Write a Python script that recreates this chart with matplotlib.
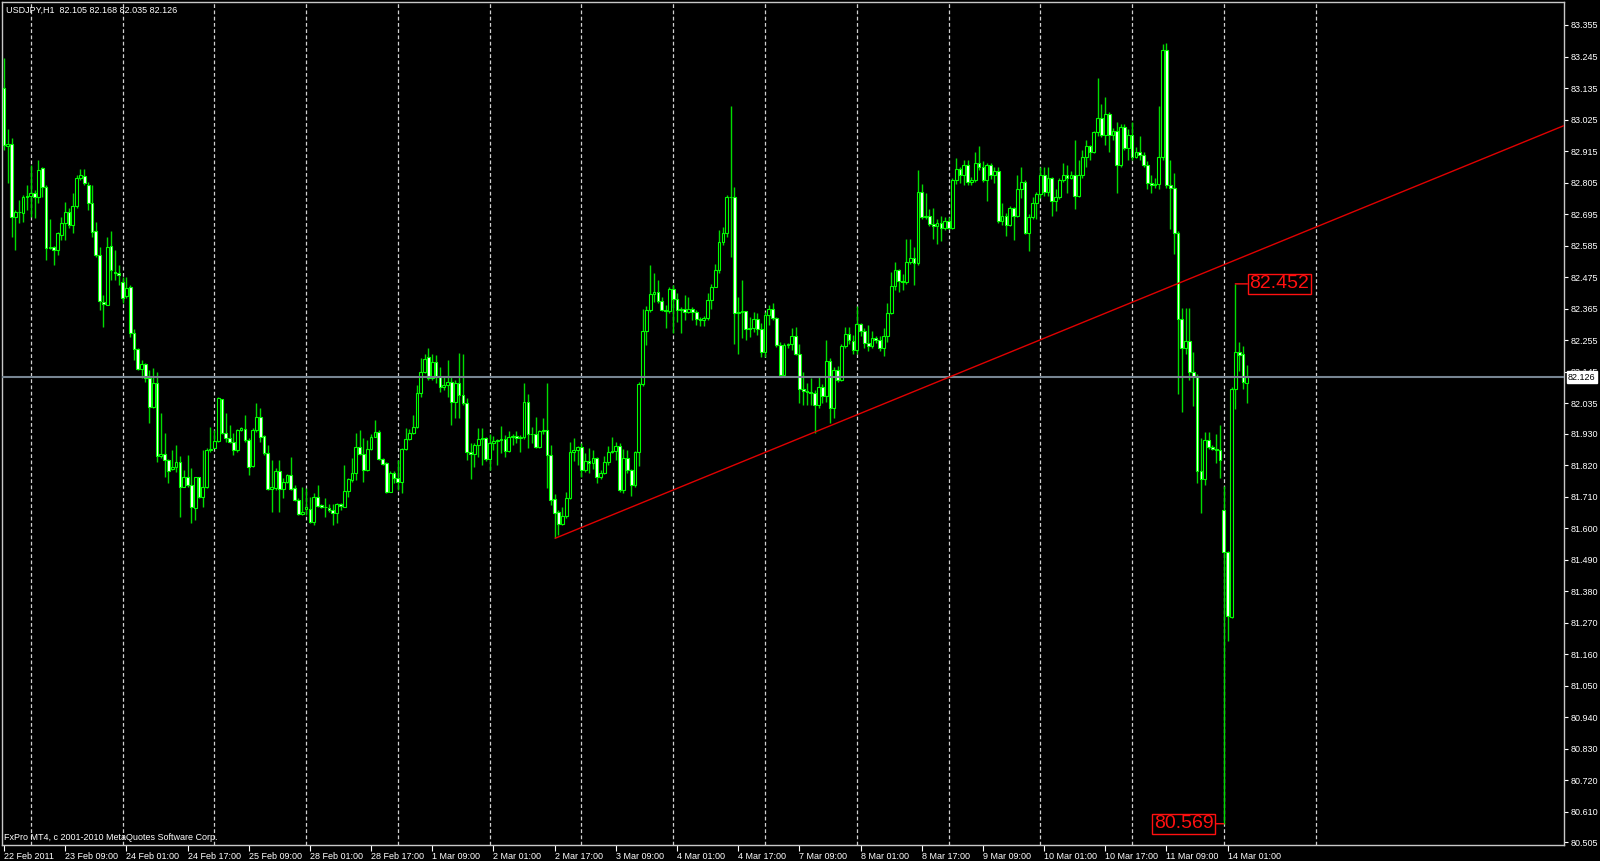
import numpy as np
import matplotlib
matplotlib.use("Agg")
import matplotlib.pyplot as plt
from matplotlib.transforms import blended_transform_factory

plt.rcParams['font.family'] = ['Liberation Sans', 'DejaVu Sans']

# USDJPY H1, one value per hourly bar (22 Feb 2011 17:00 -> 14 Mar 2011 06:00)
opens = [
    83.134, 82.933, 82.939, 82.687, 82.702, 82.698, 82.756, 82.759, 82.770, 82.756,
    82.855, 82.791, 82.576, 82.582, 82.570, 82.623, 82.663, 82.702, 82.658, 82.722,
    82.823, 82.829, 82.798, 82.735, 82.638, 82.553, 82.390, 82.379, 82.584, 82.495,
    82.489, 82.458, 82.408, 82.440, 82.282, 82.224, 82.154, 82.173, 82.123, 82.022,
    82.108, 81.852, 81.858, 81.838, 81.808, 81.812, 81.829, 81.745, 81.777, 81.751,
    81.669, 81.777, 81.710, 81.745, 81.873, 81.879, 81.905, 82.050, 81.933, 81.916,
    81.902, 81.873, 81.943, 81.947, 81.908, 81.817, 81.943, 81.989, 81.922, 81.861,
    81.736, 81.739, 81.801, 81.736, 81.762, 81.786, 81.739, 81.698, 81.650, 81.666,
    81.666, 81.623, 81.710, 81.681, 81.673, 81.669, 81.663, 81.652, 81.684, 81.675,
    81.731, 81.768, 81.791, 81.884, 81.859, 81.803, 81.875, 81.919, 81.937, 81.840,
    81.826, 81.727, 81.794, 81.774, 81.762, 81.875, 81.910, 81.931, 81.954, 82.073,
    82.143, 82.196, 82.122, 82.180, 82.126, 82.093, 82.099, 82.111, 82.041, 82.105,
    82.064, 82.035, 81.866, 81.858, 81.890, 81.910, 81.914, 81.840, 81.898, 81.905,
    81.907, 81.910, 81.870, 81.919, 81.921, 81.914, 81.917, 82.041, 81.928, 81.930,
    81.884, 81.940, 81.942, 81.855, 81.700, 81.657, 81.616, 81.642, 81.704, 81.866,
    81.872, 81.882, 81.802, 81.835, 81.826, 81.843, 81.779, 81.791, 81.832, 81.866,
    81.869, 81.886, 81.733, 81.843, 81.802, 81.750, 81.866, 82.103, 82.289, 82.361,
    82.416, 82.423, 82.393, 82.361, 82.358, 82.434, 82.398, 82.361, 82.363, 82.355,
    82.366, 82.355, 82.328, 82.326, 82.332, 82.395, 82.442, 82.500, 82.599, 82.630,
    82.754, 82.756, 82.349, 82.355, 82.358, 82.293, 82.298, 82.330, 82.295, 82.215,
    82.343, 82.366, 82.332, 82.239, 82.134, 82.239, 82.242, 82.270, 82.209, 82.087,
    82.079, 82.076, 82.070, 82.029, 82.093, 82.061, 82.184, 82.018, 82.151, 82.116,
    82.235, 82.277, 82.254, 82.222, 82.311, 82.286, 82.245, 82.236, 82.263, 82.257,
    82.227, 82.271, 82.351, 82.446, 82.502, 82.463, 82.458, 82.529, 82.542, 82.524,
    82.773, 82.684, 82.689, 82.662, 82.653, 82.666, 82.648, 82.671, 82.648, 82.813,
    82.854, 82.831, 82.867, 82.808, 82.813, 82.875, 82.861, 82.813, 82.867, 82.831,
    82.844, 82.671, 82.689, 82.659, 82.716, 82.689, 82.783, 82.808, 82.630, 82.684,
    82.733, 82.765, 82.831, 82.773, 82.822, 82.742, 82.755, 82.813, 82.831, 82.822,
    82.831, 82.760, 82.831, 82.893, 82.932, 82.911, 82.982, 83.032, 82.973, 83.044,
    82.973, 82.986, 82.867, 83.000, 82.925, 82.973, 82.893, 82.911, 82.902, 82.867,
    82.804, 82.796, 82.799, 82.893, 83.267, 82.796, 82.787, 82.630, 82.328, 82.227,
    82.254, 82.143, 82.126, 81.801, 81.770, 81.907, 81.884, 81.877, 81.872, 81.664,
    81.516, 81.290, 82.085, 82.215, 82.209, 82.105,
]
highs = [
    83.239, 82.992, 82.960, 82.710, 82.745, 82.762, 82.797, 82.867, 82.780, 82.884,
    82.861, 82.797, 82.677, 82.584, 82.634, 82.687, 82.739, 82.716, 82.768, 82.832,
    82.854, 82.854, 82.809, 82.797, 82.669, 82.582, 82.413, 82.617, 82.638, 82.570,
    82.518, 82.477, 82.477, 82.448, 82.294, 82.227, 82.187, 82.175, 82.152, 82.158,
    82.146, 82.001, 81.931, 81.840, 81.873, 81.890, 81.850, 81.803, 81.855, 81.809,
    81.780, 81.780, 81.873, 81.879, 81.954, 81.943, 82.059, 82.050, 82.001, 81.960,
    81.931, 81.946, 81.954, 81.995, 81.913, 81.948, 82.036, 82.018, 81.925, 81.890,
    81.838, 81.809, 81.836, 81.774, 81.789, 81.847, 81.751, 81.704, 81.745, 81.739,
    81.710, 81.722, 81.751, 81.684, 81.704, 81.684, 81.684, 81.687, 81.687, 81.820,
    81.774, 81.844, 81.931, 81.943, 81.914, 81.908, 81.929, 81.977, 81.943, 81.844,
    81.832, 81.801, 81.801, 81.836, 81.879, 81.948, 81.946, 81.995, 82.100, 82.193,
    82.208, 82.227, 82.209, 82.204, 82.163, 82.128, 82.186, 82.128, 82.116, 82.212,
    82.209, 82.053, 81.896, 81.896, 81.951, 81.948, 81.919, 81.930, 81.921, 81.910,
    81.956, 81.925, 81.940, 81.930, 81.940, 81.925, 82.105, 82.068, 81.954, 81.989,
    81.944, 81.983, 82.105, 81.890, 81.719, 81.663, 81.675, 81.727, 81.901, 81.913,
    81.886, 81.896, 81.861, 81.878, 81.872, 81.849, 81.802, 81.851, 81.886, 81.919,
    81.901, 81.896, 81.875, 81.872, 81.808, 81.870, 82.111, 82.366, 82.375, 82.518,
    82.489, 82.465, 82.407, 82.378, 82.442, 82.448, 82.419, 82.372, 82.413, 82.405,
    82.372, 82.361, 82.337, 82.340, 82.419, 82.451, 82.523, 82.640, 82.651, 82.762,
    83.072, 82.791, 82.407, 82.465, 82.358, 82.337, 82.355, 82.349, 82.314, 82.355,
    82.378, 82.384, 82.337, 82.250, 82.247, 82.247, 82.297, 82.302, 82.244, 82.146,
    82.105, 82.122, 82.082, 82.126, 82.103, 82.256, 82.192, 82.163, 82.165, 82.244,
    82.300, 82.302, 82.275, 82.374, 82.316, 82.298, 82.307, 82.289, 82.271, 82.271,
    82.298, 82.387, 82.493, 82.529, 82.505, 82.485, 82.609, 82.609, 82.582, 82.849,
    82.801, 82.769, 82.712, 82.716, 82.677, 82.689, 82.684, 82.684, 82.822, 82.890,
    82.861, 82.884, 82.884, 82.826, 82.911, 82.932, 82.879, 82.875, 82.872, 82.858,
    82.858, 82.733, 82.698, 82.724, 82.719, 82.831, 82.858, 82.813, 82.694, 82.755,
    82.773, 82.858, 82.858, 82.858, 82.825, 82.783, 82.822, 82.875, 82.867, 82.844,
    82.955, 82.884, 82.920, 82.955, 82.938, 82.986, 83.169, 83.080, 83.103, 83.053,
    82.996, 83.018, 83.009, 83.009, 82.991, 83.018, 82.929, 82.968, 82.911, 82.879,
    82.831, 82.822, 83.071, 83.288, 83.293, 82.884, 82.840, 82.636, 82.369, 82.369,
    82.369, 82.215, 82.138, 81.916, 81.934, 81.934, 81.889, 81.930, 81.960, 81.747,
    81.520, 82.094, 82.452, 82.250, 82.236, 82.168,
]
lows = [
    82.919, 82.803, 82.617, 82.570, 82.663, 82.669, 82.710, 82.687, 82.681, 82.733,
    82.756, 82.535, 82.573, 82.518, 82.553, 82.605, 82.605, 82.646, 82.629, 82.716,
    82.815, 82.797, 82.710, 82.617, 82.547, 82.361, 82.303, 82.379, 82.466, 82.466,
    82.448, 82.384, 82.402, 82.268, 82.187, 82.152, 82.123, 82.111, 81.966, 82.018,
    81.829, 81.844, 81.780, 81.757, 81.803, 81.797, 81.640, 81.743, 81.745, 81.617,
    81.629, 81.704, 81.675, 81.739, 81.867, 81.879, 81.902, 81.929, 81.902, 81.896,
    81.855, 81.867, 81.940, 81.902, 81.786, 81.815, 81.937, 81.902, 81.855, 81.733,
    81.658, 81.733, 81.658, 81.704, 81.757, 81.733, 81.696, 81.646, 81.646, 81.646,
    81.617, 81.611, 81.675, 81.669, 81.640, 81.658, 81.611, 81.617, 81.663, 81.673,
    81.710, 81.762, 81.768, 81.855, 81.762, 81.801, 81.873, 81.917, 81.838, 81.820,
    81.722, 81.727, 81.757, 81.733, 81.724, 81.873, 81.908, 81.929, 81.948, 82.059,
    82.140, 82.116, 82.116, 82.105, 82.076, 82.082, 82.058, 81.960, 81.983, 81.983,
    82.029, 81.837, 81.773, 81.814, 81.849, 81.820, 81.835, 81.802, 81.872, 81.820,
    81.861, 81.849, 81.866, 81.890, 81.896, 81.866, 81.912, 81.878, 81.896, 81.878,
    81.880, 81.930, 81.739, 81.680, 81.564, 81.576, 81.611, 81.634, 81.700, 81.835,
    81.820, 81.779, 81.797, 81.791, 81.808, 81.758, 81.773, 81.789, 81.820, 81.861,
    81.837, 81.727, 81.721, 81.791, 81.712, 81.744, 81.817, 82.096, 82.239, 82.355,
    82.390, 82.384, 82.358, 82.297, 82.349, 82.279, 82.320, 82.282, 82.326, 82.349,
    82.326, 82.308, 82.305, 82.305, 82.326, 82.366, 82.440, 82.491, 82.587, 82.616,
    82.547, 82.244, 82.209, 82.262, 82.256, 82.265, 82.285, 82.273, 82.198, 82.198,
    82.308, 82.326, 82.233, 82.130, 82.128, 82.230, 82.223, 82.204, 82.035, 82.029,
    82.029, 82.029, 81.933, 82.018, 82.035, 82.041, 81.965, 81.983, 82.111, 82.114,
    82.227, 82.244, 82.209, 82.209, 82.271, 82.227, 82.218, 82.227, 82.245, 82.218,
    82.200, 82.250, 82.346, 82.431, 82.423, 82.431, 82.453, 82.520, 82.449, 82.517,
    82.680, 82.677, 82.653, 82.609, 82.591, 82.600, 82.641, 82.645, 82.645, 82.801,
    82.804, 82.796, 82.796, 82.796, 82.808, 82.849, 82.808, 82.742, 82.819, 82.804,
    82.666, 82.659, 82.618, 82.653, 82.606, 82.684, 82.751, 82.627, 82.565, 82.677,
    82.680, 82.751, 82.760, 82.760, 82.689, 82.707, 82.748, 82.808, 82.769, 82.819,
    82.712, 82.755, 82.822, 82.861, 82.884, 82.907, 82.968, 82.964, 82.938, 82.911,
    82.955, 82.769, 82.861, 82.920, 82.884, 82.884, 82.890, 82.884, 82.861, 82.783,
    82.769, 82.787, 82.783, 82.884, 82.787, 82.645, 82.556, 82.067, 82.005, 82.209,
    82.115, 82.026, 81.756, 81.653, 81.752, 81.877, 81.872, 81.827, 81.774, 80.569,
    81.205, 81.285, 82.014, 82.147, 82.085, 82.035,
]
closes = [
    82.937, 82.939, 82.687, 82.702, 82.704, 82.756, 82.759, 82.768, 82.756, 82.849,
    82.791, 82.576, 82.582, 82.570, 82.629, 82.663, 82.702, 82.658, 82.722, 82.820,
    82.831, 82.803, 82.735, 82.634, 82.553, 82.394, 82.381, 82.582, 82.501, 82.489,
    82.483, 82.404, 82.437, 82.280, 82.224, 82.154, 82.173, 82.123, 82.022, 82.108,
    81.852, 81.858, 81.838, 81.801, 81.815, 81.829, 81.743, 81.777, 81.751, 81.675,
    81.777, 81.710, 81.745, 81.873, 81.875, 81.905, 82.053, 81.931, 81.916, 81.902,
    81.873, 81.943, 81.948, 81.908, 81.815, 81.943, 81.987, 81.919, 81.861, 81.736,
    81.745, 81.801, 81.736, 81.762, 81.786, 81.736, 81.698, 81.650, 81.655, 81.673,
    81.623, 81.710, 81.677, 81.673, 81.675, 81.663, 81.652, 81.684, 81.677, 81.731,
    81.770, 81.791, 81.884, 81.859, 81.803, 81.875, 81.919, 81.937, 81.840, 81.824,
    81.727, 81.794, 81.774, 81.762, 81.875, 81.910, 81.931, 81.954, 82.073, 82.146,
    82.189, 82.122, 82.180, 82.126, 82.093, 82.099, 82.111, 82.041, 82.105, 82.064,
    82.035, 81.866, 81.858, 81.890, 81.910, 81.914, 81.840, 81.898, 81.905, 81.907,
    81.910, 81.870, 81.919, 81.921, 81.914, 81.917, 82.041, 81.928, 81.930, 81.884,
    81.940, 81.942, 81.855, 81.698, 81.654, 81.616, 81.642, 81.704, 81.866, 81.872,
    81.882, 81.802, 81.835, 81.826, 81.843, 81.779, 81.791, 81.832, 81.866, 81.869,
    81.886, 81.733, 81.843, 81.802, 81.750, 81.866, 82.103, 82.289, 82.361, 82.416,
    82.423, 82.393, 82.361, 82.358, 82.434, 82.398, 82.361, 82.363, 82.355, 82.366,
    82.355, 82.328, 82.326, 82.332, 82.395, 82.442, 82.500, 82.599, 82.630, 82.754,
    82.756, 82.349, 82.355, 82.358, 82.293, 82.298, 82.330, 82.295, 82.215, 82.343,
    82.366, 82.332, 82.239, 82.134, 82.239, 82.242, 82.270, 82.209, 82.087, 82.079,
    82.076, 82.070, 82.029, 82.093, 82.061, 82.184, 82.018, 82.151, 82.116, 82.235,
    82.277, 82.256, 82.222, 82.311, 82.286, 82.245, 82.236, 82.263, 82.257, 82.227,
    82.271, 82.351, 82.446, 82.502, 82.463, 82.458, 82.529, 82.542, 82.524, 82.773,
    82.684, 82.689, 82.662, 82.653, 82.666, 82.648, 82.671, 82.648, 82.813, 82.854,
    82.831, 82.867, 82.808, 82.813, 82.875, 82.861, 82.813, 82.867, 82.831, 82.844,
    82.671, 82.689, 82.659, 82.716, 82.689, 82.783, 82.808, 82.630, 82.684, 82.733,
    82.765, 82.831, 82.773, 82.822, 82.742, 82.755, 82.813, 82.831, 82.822, 82.831,
    82.760, 82.831, 82.893, 82.932, 82.911, 82.982, 83.032, 82.973, 83.044, 82.973,
    82.986, 82.867, 83.000, 82.925, 82.973, 82.893, 82.911, 82.902, 82.867, 82.804,
    82.796, 82.799, 82.893, 83.267, 82.796, 82.787, 82.630, 82.328, 82.227, 82.254,
    82.143, 82.126, 81.801, 81.770, 81.907, 81.884, 81.877, 81.872, 81.836, 81.516,
    81.294, 82.085, 82.215, 82.204, 82.111, 82.126,
]

date_labels = ["22 Feb 2011", "23 Feb 09:00", "24 Feb 01:00", "24 Feb 17:00",
               "25 Feb 09:00", "28 Feb 01:00", "28 Feb 17:00", "1 Mar 09:00",
               "2 Mar 01:00", "2 Mar 17:00", "3 Mar 09:00", "4 Mar 01:00",
               "4 Mar 17:00", "7 Mar 09:00", "8 Mar 01:00", "8 Mar 17:00",
               "9 Mar 09:00", "10 Mar 01:00", "10 Mar 17:00", "11 Mar 09:00",
               "14 Mar 01:00"]
date_label_bars = [0, 16, 32, 48, 64, 80, 96, 112, 128, 144, 160, 176, 192,
                   208, 224, 240, 256, 272, 288, 304, 320]
day_sep_bars = [7, 31, 55, 79, 103, 127, 151, 175, 199, 223, 247, 271, 295, 319, 343]

price_ticks = [83.355, 83.245, 83.135, 83.025, 82.915, 82.805, 82.695, 82.585,
               82.475, 82.365, 82.255, 82.145, 82.035, 81.930, 81.820, 81.710,
               81.600, 81.490, 81.380, 81.270, 81.160, 81.050, 80.940, 80.830,
               80.720, 80.610, 80.505]

bid_price = 82.126
trend_bars = [144, 212]
trend_prices = [81.564, 81.935]
mark_high_bar, mark_high = 322, 82.452
mark_low_bar, mark_low = 319, 80.569

header = "USDJPY,H1  82.105 82.168 82.035 82.126"
footer = "FxPro MT4, c 2001-2010 MetaQuotes Software Corp."

assert len(opens) == len(highs) == len(lows) == len(closes)

o = np.array(opens)
h = np.array(highs)
l = np.array(lows)
c = np.array(closes)
x = np.arange(len(c))

fig = plt.figure(figsize=(16, 8.61), dpi=100, facecolor="black")
ax = fig.add_axes([2 / 1600, 16 / 861, 1562 / 1600, 843 / 861])
ax.set_facecolor("black")
x_min, x_max = -0.523, 407.95
ax.set_xlim(x_min, x_max)
ax.set_ylim(80.4948, 83.4352)

for s in ax.spines.values():
    s.set_color("#c8c8c8")
    s.set_linewidth(1)

# separadores de dia
for g in day_sep_bars:
    ax.axvline(g, color="#d0d0d0", lw=0.9, ls=(0, (3, 2)), zorder=1)

# velas
ax.vlines(x, l, h, color="#00dd00", lw=1, zorder=2)
bull = c >= o
bottom = np.minimum(o, c)
height = np.abs(c - o)
faces = np.where(bull, "black", "white")
ax.bar(x, height, bottom=bottom, width=0.72, color=faces,
       edgecolor="#00ff00", linewidth=0.8, zorder=3)

# linea bid
ax.axhline(bid_price, color="#778592", lw=1.5, zorder=4)

# linea de tendencia
slope = (trend_prices[1] - trend_prices[0]) / (trend_bars[1] - trend_bars[0])
y_end = trend_prices[0] + slope * (x_max - trend_bars[0])
ax.plot([trend_bars[0], x_max], [trend_prices[0], y_end], color="#e00000",
        lw=1, zorder=5, solid_capstyle="butt")

# etiquetas de precio
ax.annotate(f"{mark_high:.3f}", xy=(mark_high_bar, mark_high), xytext=(44, 0),
            textcoords="offset pixels", ha="center", va="center", color="#ff1010",
            fontsize=14, zorder=6,
            bbox=dict(boxstyle="square,pad=0.08", fc="black", ec="#ff1010", lw=1),
            arrowprops=dict(arrowstyle="-", color="#ff1010", lw=1, shrinkA=0, shrinkB=0))
ax.annotate(f"{mark_low:.3f}", xy=(mark_low_bar, mark_low), xytext=(-40, 0),
            textcoords="offset pixels", ha="center", va="center", color="#ff1010",
            fontsize=14, zorder=6,
            bbox=dict(boxstyle="square,pad=0.08", fc="black", ec="#ff1010", lw=1),
            arrowprops=dict(arrowstyle="-", color="#ff1010", lw=1, shrinkA=0, shrinkB=0))

# ejes
ax.yaxis.tick_right()
ax.set_yticks(price_ticks)
ax.set_yticklabels([f"{p:.3f}" for p in price_ticks])
ax.tick_params(axis="y", colors="white", labelsize=6.5, length=3, width=0.8,
               pad=1.5, direction="out", labelcolor="white")
ax.set_xticks(date_label_bars)
ax.set_xticklabels(date_labels, ha="left")
ax.tick_params(axis="x", colors="white", labelsize=6.5, length=4, width=0.8,
               pad=1, direction="out", labelcolor="white")

trans = blended_transform_factory(ax.transAxes, ax.transData)
ax.text(1.0025, bid_price, f"{bid_price:.3f}", transform=trans, ha="left",
        va="center", fontsize=6.5, color="black", zorder=10, clip_on=False,
        bbox=dict(boxstyle="square,pad=0.15", fc="white", ec="white"))

ax.text(4 / 1562, 1 - 8 / 843, header, transform=ax.transAxes, ha="left",
        va="center", fontsize=6.5, color="white")
ax.text(2 / 1562, 8 / 843, footer, transform=ax.transAxes, ha="left",
        va="center", fontsize=6.5, color="white")

fig.savefig("out.png", dpi=100, facecolor="black")
plt.close(fig)
